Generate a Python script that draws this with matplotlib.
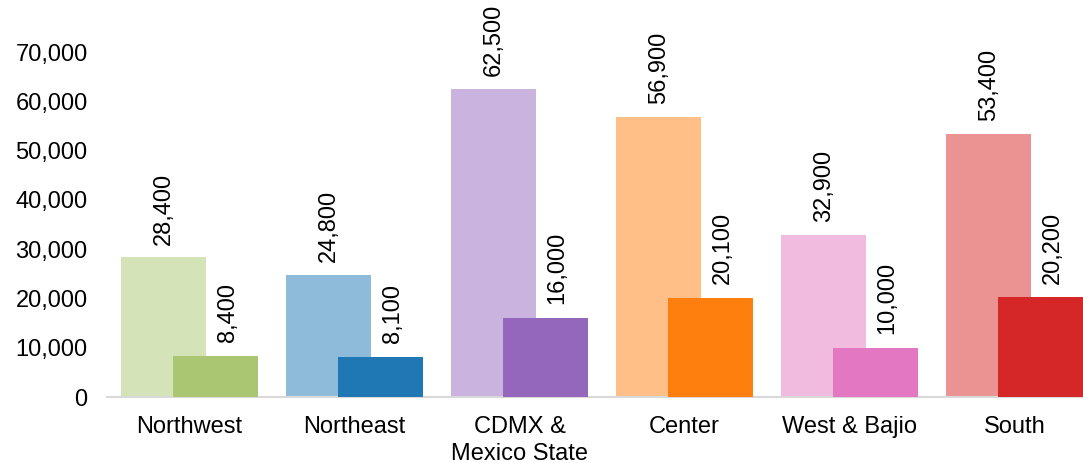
import numpy as np
import matplotlib
matplotlib.use("Agg")
import matplotlib.pyplot as plt

plt.rcParams['font.family'] = ['Liberation Sans', 'DejaVu Sans']

# regions and the two series
regions = ["Northwest", "Northeast", "CDMX &\nMexico State", "Center", "West & Bajio", "South"]
total_vals = [28400, 24800, 62500, 56900, 32900, 53400]
sub_vals = [8400, 8100, 16000, 20100, 10000, 20200]

dark_colors = ["#abc672", "#1f77b4", "#9467bd", "#ff7f0e", "#e377c2", "#d62728"]
light_colors = ["#d5e3b8", "#8fbbda", "#cab3de", "#ffbf87", "#f1bbe0", "#eb9393"]

fig = plt.figure(figsize=(10.83, 4.63), dpi=100)
ax = fig.add_axes([107 / 1083, 66 / 463, 990 / 1083, 345 / 463])

x = np.arange(len(regions))
w = 0.515
off = 0.155

bars1 = ax.bar(x - off, total_vals, width=w, color=light_colors, zorder=2)
bars2 = ax.bar(x + off, sub_vals, width=w, color=dark_colors, zorder=3)

for b, v in zip(bars1, total_vals):
    ax.annotate(f"{v:,}", (b.get_x() + b.get_width() / 2, v), xytext=(0, 9),
                textcoords="offset points", rotation=90, ha="center", va="bottom",
                fontsize=17, annotation_clip=False)
for b, v in zip(bars2, sub_vals):
    ax.annotate(f"{v:,}", (b.get_x() + b.get_width() / 2, v), xytext=(9, 10),
                textcoords="offset points", rotation=90, ha="center", va="bottom",
                fontsize=17, annotation_clip=False)

ax.set_xlim(-0.5, 5.5)
ax.set_ylim(0, 70000)
ax.set_yticks(range(0, 70001, 10000))
ax.set_yticklabels([f"{t:,}" for t in range(0, 70001, 10000)])
ax.set_xticks(x)
ax.set_xticklabels(regions, linespacing=1.25)
ax.tick_params(axis="both", length=0, labelsize=17)
ax.tick_params(axis="y", pad=14)
ax.tick_params(axis="x", pad=14)

for s in ["top", "right", "left"]:
    ax.spines[s].set_visible(False)
ax.spines["bottom"].set_color("#d9d9d9")
ax.spines["bottom"].set_linewidth(1.5)

fig.savefig("out.png", dpi=100)
